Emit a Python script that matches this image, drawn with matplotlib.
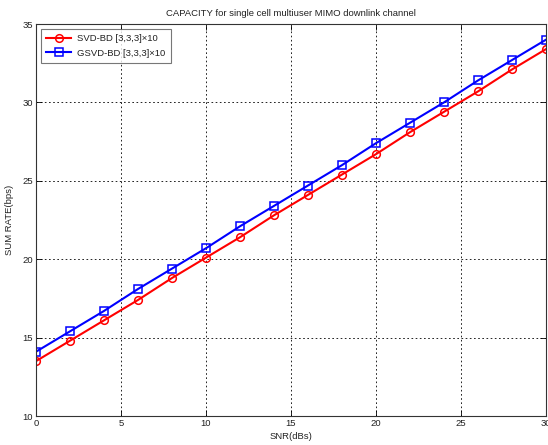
import matplotlib
matplotlib.use("Agg")
import matplotlib.pyplot as plt
from matplotlib import font_manager

snr = [0, 2, 4, 6, 8, 10, 12, 14, 16, 18, 20, 22, 24, 26, 28, 30]
svd_bd = [13.5, 14.8, 16.1, 17.4, 18.8, 20.1, 21.4, 22.8, 24.1, 25.4, 26.7, 28.1, 29.4, 30.7, 32.1, 33.4]
gsvd_bd = [14.1, 15.4, 16.7, 18.1, 19.4, 20.7, 22.1, 23.4, 24.7, 26.0, 27.4, 28.7, 30.0, 31.4, 32.7, 34.0]
xticks = [0, 5, 10, 15, 20, 25, 30]
yticks = [10, 15, 20, 25, 30, 35]

names = {f.name for f in font_manager.fontManager.ttflist}
if 'Liberation Sans Narrow' in names:
    fam = ['Liberation Sans Narrow', 'DejaVu Sans']
    FS = 7.6
else:
    fam = ['Liberation Sans', 'DejaVu Sans']
    FS = 6.8
plt.rcParams['font.family'] = fam
fig = plt.figure(figsize=(5.48, 4.45), dpi=100)
ax = fig.add_axes([36/548, 29/445, 510/548, 392/445])

ax.plot(snr, svd_bd, color='red', lw=1.5, marker='o', ms=5.5, mfc='none', mew=1.1,
        label='SVD-BD [3,3,3]×10')
ax.plot(snr, gsvd_bd, color='blue', lw=1.5, marker='s', ms=5.5, mfc='none', mew=1.1,
        label='GSVD-BD [3,3,3]×10')

ax.set_xlim(0, 30)
ax.set_ylim(10, 35)
ax.set_xticks(xticks)
ax.set_yticks(yticks)
ax.grid(True, color='black', linestyle=(0, (2, 3)), linewidth=0.6)
ax.tick_params(direction='in', top=True, right=True, labelsize=FS, length=4, width=0.6, pad=2,
               labelcolor='#222222')
for s in ax.spines.values():
    s.set_linewidth(0.8)
    s.set_color('#333333')

ax.set_title('CAPACITY for single cell multiuser MIMO downlink channel', fontsize=FS, pad=6,
             color='#222222')
ax.set_xlabel('SNR(dBs)', fontsize=FS, labelpad=3, color='#222222')
ax.set_ylabel('SUM RATE(bps)', fontsize=FS, labelpad=6, color='#222222')

leg = ax.legend(loc='upper left', fontsize=FS, frameon=True, fancybox=False,
                edgecolor='#555555', borderaxespad=0.5, handlelength=2.6,
                handletextpad=0.6, borderpad=0.6, labelspacing=0.55)
leg.get_frame().set_linewidth(0.8)
for t in leg.get_texts():
    t.set_color('#222222')

fig.savefig('out.png', dpi=100, facecolor='white')
